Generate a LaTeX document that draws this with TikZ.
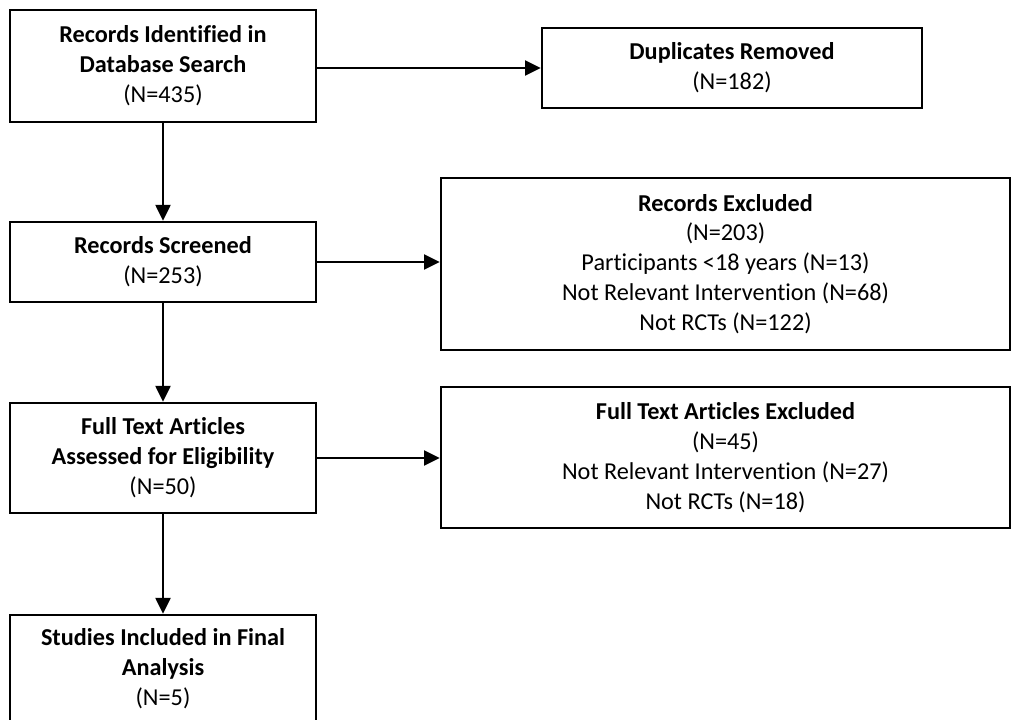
\documentclass[tikz,border=0pt]{standalone}
\usepackage{fontspec}
\setmainfont{Carlito}[Ligatures=CommonOff]
\usetikzlibrary{arrows.meta}
\tikzset{
  box/.style={draw,line width=1.4pt,align=center,inner sep=0pt,font=\fontsize{13.8}{17}\selectfont},
  arr/.style={line width=1.2pt,-{Triangle[length=9pt,width=8.5pt]}}
}
\newcommand{\hd}[1]{\textbf{#1}}

\begin{document}
\begin{tikzpicture}[x=0.02cm,y=-0.02cm]
\useasboundingbox (0,0) rectangle (1011,720);
\node[box,minimum width=6.12cm,minimum height=2.24cm] (ident) at (163,66) {\hd{Records Identified in}\\\hd{Database Search}\\(N=435)};
\node[box,minimum width=7.6cm,minimum height=1.6cm] (dupl) at (732,68) {\hd{Duplicates Removed}\\(N=182)};
\node[box,minimum width=6.12cm,minimum height=1.6cm] (screen) at (163,262) {\hd{Records Screened}\\(N=253)};
\node[box,minimum width=11.38cm,minimum height=3.44cm] (recexcl) at (725.5,264) {\hd{Records Excluded}\\(N=203)\\Participants <18 years (N=13)\\Not Relevant Intervention (N=68)\\Not RCTs (N=122)};
\node[box,minimum width=6.12cm,minimum height=2.2cm] (fulltext) at (163,458) {\hd{Full Text Articles}\\\hd{Assessed for Eligibility}\\(N=50)};
\node[box,minimum width=11.38cm,minimum height=2.82cm] (ftexcl) at (725.5,457.5) {\hd{Full Text Articles Excluded}\\(N=45)\\Not Relevant Intervention (N=27)\\Not RCTs (N=18)};
\node[box,minimum width=6.12cm,minimum height=2.16cm] (incl) at (163,669) {\hd{Studies Included in Final}\\\hd{Analysis}\\(N=5)};
\draw[arr] (ident) -- (screen);
\draw[arr] (screen) -- (fulltext);
\draw[arr] (fulltext) -- (incl);
\draw[arr] (dupl.west -| ident.east) -- (dupl.west);
\draw[arr] (screen.east) -- (screen.east -| recexcl.west);
\draw[arr] (fulltext.east) -- (fulltext.east -| ftexcl.west);
\end{tikzpicture}
\end{document}
